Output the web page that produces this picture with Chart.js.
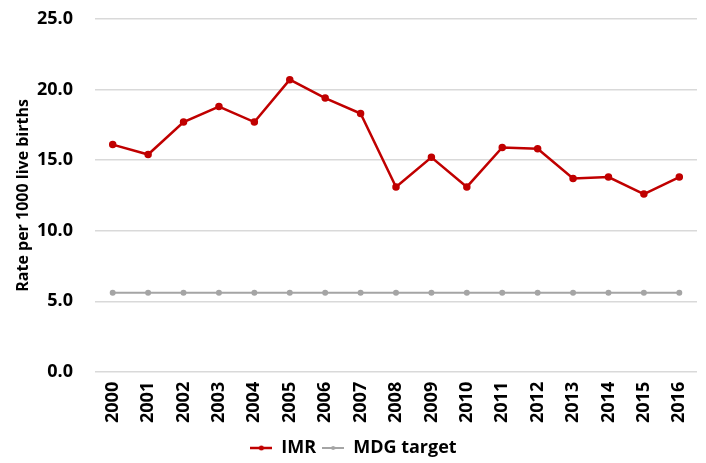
<!DOCTYPE html>
<html>
<head>
<meta charset="utf-8">
<script src="https://cdn.jsdelivr.net/npm/chart.js@4"></script>
<style>
  html, body { margin: 0; padding: 0; background: #fff; }
  #wrap { width: 706px; height: 463px; }
</style>
</head>
<body>
<div id="wrap"><canvas id="myChart" width="706" height="463"></canvas></div>
<script>
const years = ["2000", "2001", "2002", "2003", "2004", "2005", "2006", "2007", "2008",
  "2009", "2010", "2011", "2012", "2013", "2014", "2015", "2016"];
const imr = [16.1, 15.4, 17.7, 18.8, 17.7, 20.7, 19.4, 18.3, 13.1,
  15.2, 13.1, 15.9, 15.8, 13.7, 13.8, 12.6, 13.8];
const mdgTarget = [5.6, 5.6, 5.6, 5.6, 5.6, 5.6, 5.6, 5.6, 5.6,
  5.6, 5.6, 5.6, 5.6, 5.6, 5.6, 5.6, 5.6];
const yTicks = [0, 5, 10, 15, 20, 25];

Chart.defaults.font.family = "'Open Sans', sans-serif";
Chart.defaults.font.weight = "bold";
Chart.defaults.color = "#000";

// small line-with-dot marker for the legend
function legendMarker(color, lw, r) {
  const c = document.createElement("canvas");
  c.width = 22;
  c.height = 8;
  const ctx = c.getContext("2d");
  ctx.strokeStyle = color;
  ctx.lineWidth = lw;
  ctx.beginPath();
  ctx.moveTo(0, 4);
  ctx.lineTo(22, 4);
  ctx.stroke();
  ctx.fillStyle = color;
  ctx.beginPath();
  ctx.arc(11, 4, r, 0, Math.PI * 2);
  ctx.fill();
  return c;
}
const markers = [legendMarker("#c00000", 2.5, 2.5), legendMarker("#a5a5a5", 2, 2)];

const data = {
  labels: years,
  datasets: [
    {
      label: "IMR",
      data: imr,
      borderColor: "#c00000",
      backgroundColor: "#c00000",
      borderWidth: 2.5,
      pointRadius: 2.5,
      pointHoverRadius: 3,
    },
    {
      label: "MDG target",
      data: mdgTarget,
      borderColor: "#a5a5a5",
      backgroundColor: "#a5a5a5",
      borderWidth: 2,
      pointRadius: 2,
      pointHoverRadius: 3,
    },
  ],
};

const config = {
  type: "line",
  data: data,
  options: {
    responsive: false,
    animation: false,
    layout: { padding: { top: 19, left: 10, right: 9, bottom: -4 } },
    plugins: {
      legend: {
        position: "bottom",
        labels: {
          usePointStyle: true,
          pointStyleWidth: 22,
          boxHeight: 8,
          padding: 6,
          font: { size: 18, weight: "bold" },
          generateLabels: (chart) => {
            const items = Chart.defaults.plugins.legend.labels.generateLabels(chart);
            items.forEach((it, i) => { it.pointStyle = markers[i]; });
            return items;
          },
        },
      },
      tooltip: { enabled: false },
    },
    scales: {
      x: {
        offset: true,
        afterFit: (axis) => {
          axis.paddingLeft = 0;
          axis.paddingRight = 0;
        },
        grid: { display: false, drawTicks: false },
        border: { display: false },
        ticks: { minRotation: 90, maxRotation: 90, padding: 10, font: { size: 18, weight: "bold" } },
      },
      y: {
        min: 0,
        max: 25,
        afterBuildTicks: (axis) => { axis.ticks = yTicks.map((v) => ({ value: v })); },
        afterFit: (axis) => {
          axis.width = 85;
          axis.paddingTop = 0;
          axis.paddingBottom = 0;
        },
        grid: { color: "#d9d9d9", lineWidth: 1.5, drawTicks: false },
        border: { display: false },
        ticks: {
          padding: 22,
          font: { size: 18, weight: "bold" },
          callback: (v) => Number(v).toFixed(1),
        },
        title: {
          display: true,
          text: "Rate per 1000 live births",
          font: { size: 16, weight: "bold" },
        },
      },
    },
  },
};

let myChart = new Chart(document.getElementById("myChart"), config);
</script>
</body>
</html>
